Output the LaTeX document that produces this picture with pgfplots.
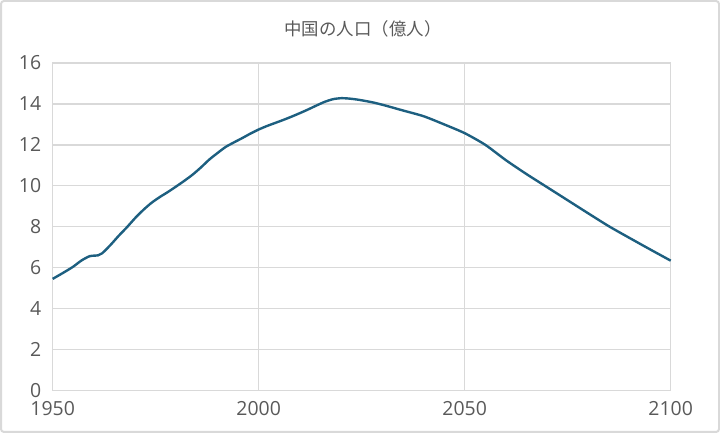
\documentclass[border=0pt]{standalone}
\usepackage{pgfplots}
\pgfplotsset{compat=1.18}
\usepackage{fontspec}
\setmainfont{Open Sans}
\newfontfamily\cjk{Noto Sans CJK JP}
\definecolor{linecol}{HTML}{1D5F80}
\definecolor{gridcol}{HTML}{D9D9D9}
\definecolor{txtcol}{HTML}{595959}
\definecolor{bordercol}{HTML}{D9D9D9}
\begin{document}
\begin{tikzpicture}[x=1bp,y=1bp]
\useasboundingbox (0,0) rectangle (720,433);
\draw[color=bordercol, line width=2bp, rounded corners=3bp] (1,1) rectangle (719,432);
\node[text=txtcol, font=\cjk\fontsize{17.5}{20}\selectfont] at (363,404) {中国の人口（億人）};
\begin{axis}[
  at={(52.7bp,42.6bp)}, anchor=south west,
  scale only axis, width=618bp, height=327.4bp,
  xmin=1950, xmax=2100, ymin=0, ymax=16,
  xtick={1950,2000,2050,2100},
  ytick={0,2,...,16},
  grid=major,
  major grid style={color=gridcol, line width=1.4bp},
  axis line style={color=gridcol, line width=1.4bp},
  major tick length=0pt,
  tick label style={text=txtcol, font=\fontsize{19.5}{22}\selectfont},
  /pgf/number format/assume math mode=true,
  x tick label style={/pgf/number format/1000 sep={}, yshift=-7bp},
  y tick label style={xshift=-8bp},
  clip=false,
]
\addplot[color=linecol, line width=2.4bp, smooth, tension=0.4] coordinates {
(1950,5.45) (1953,5.80) (1955,6.05) (1957,6.35) (1959,6.56) (1961,6.60) (1962,6.70)
(1964,7.10) (1966,7.55) (1968,7.97) (1970,8.42) (1972,8.82) (1974,9.17) (1976,9.45)
(1978,9.70) (1980,9.97) (1982,10.25) (1984,10.55) (1986,10.90) (1988,11.28) (1990,11.60)
(1992,11.90) (1994,12.12) (1996,12.33) (1998,12.55) (2000,12.75) (2002,12.92) (2004,13.07)
(2006,13.22) (2008,13.38) (2010,13.55) (2012,13.73) (2014,13.92) (2016,14.10) (2018,14.23)
(2020,14.28) (2022,14.26) (2024,14.21) (2026,14.14) (2028,14.06) (2030,13.96) (2032,13.85)
(2035,13.68) (2040,13.40) (2045,13.00) (2050,12.57) (2055,12.00) (2060,11.25) (2065,10.57)
(2070,9.93) (2075,9.29) (2080,8.65) (2085,8.02) (2090,7.45) (2095,6.89) (2100,6.34)
};
\end{axis}
\end{tikzpicture}
\end{document}
